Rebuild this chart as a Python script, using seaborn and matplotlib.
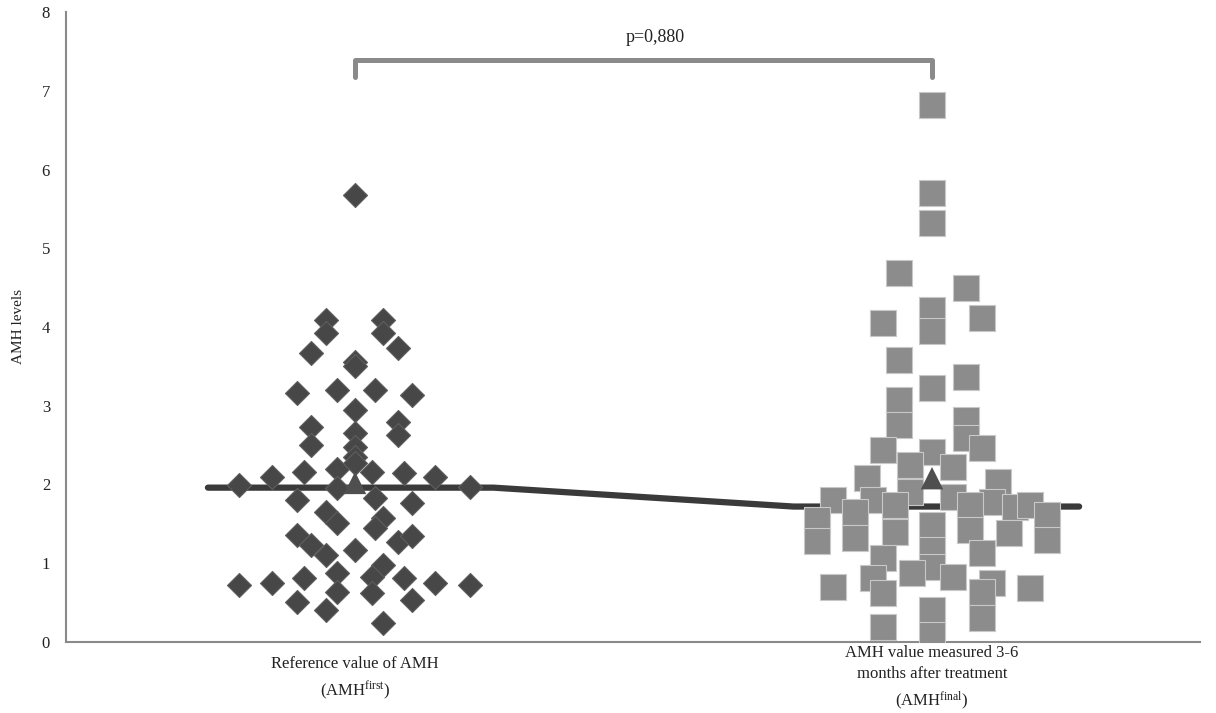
import numpy as np
import pandas as pd
import seaborn as sns
import matplotlib.pyplot as plt

# AMH values, with the sideways jitter (fraction of category width)
amh_first = [5.68, 4.09, 3.92, 4.09, 3.92, 3.73, 3.67, 3.56, 3.50, 3.16,
             3.20, 3.20, 3.14, 2.95, 2.73, 2.50, 2.80, 2.63, 2.65, 2.48,
             2.35, 2.16, 2.20, 2.16, 2.14, 2.10, 2.10, 1.99, 1.97, 1.96,
             2.27, 1.80, 1.83, 1.76, 1.65, 1.51, 1.57, 1.45, 1.36, 1.23,
             1.10, 1.17, 1.27, 1.34, 0.98, 0.87, 0.83, 0.72, 0.75, 0.81,
             0.81, 0.75, 0.72, 0.51, 0.64, 0.62, 0.53, 0.41, 0.24]
jitter_first = [0.000, -0.050, -0.050, 0.049, 0.049, 0.075, -0.076, 0.000, 0.000, -0.101,
                -0.031, 0.035, 0.099, 0.000, -0.076, -0.076, 0.075, 0.075, 0.000, 0.000,
                0.000, -0.088, -0.031, 0.029, 0.085, 0.139, -0.144, -0.201, 0.199, -0.031,
                0.000, -0.101, 0.035, 0.099, -0.050, -0.031, 0.049, 0.035, -0.101, -0.076,
                -0.050, 0.000, 0.075, 0.099, 0.049, -0.031, 0.029, -0.201, -0.144, -0.088,
                0.085, 0.139, 0.199, -0.101, -0.031, 0.029, 0.099, -0.050, 0.049]

amh_final = [6.82, 5.70, 5.32, 4.69, 4.50, 4.05, 4.22, 3.95, 4.11, 3.58,
             3.37, 3.22, 3.07, 2.75, 2.82, 2.59, 2.46, 2.44, 2.41, 2.25,
             2.22, 2.08, 2.03, 1.90, 1.84, 1.80, 1.74, 1.80, 1.65, 1.78,
             1.74, 1.71, 1.74, 1.61, 1.55, 1.28, 1.32, 1.40, 1.49, 1.42,
             1.38, 1.30, 1.17, 1.13, 1.07, 0.95, 0.87, 0.83, 0.81, 0.70,
             0.75, 0.69, 0.64, 0.62, 0.41, 0.30, 0.19, 0.09]
jitter_final = [0.000, 0.000, 0.000, -0.057, 0.059, -0.085, 0.000, 0.000, 0.087, -0.057,
                0.059, 0.000, -0.057, -0.057, 0.059, 0.059, 0.087, -0.085, 0.000, -0.038,
                0.036, -0.113, 0.114, -0.038, 0.036, -0.102, -0.064, -0.172, -0.133, 0.104,
                0.066, 0.144, 0.170, 0.199, -0.199, -0.199, -0.133, -0.064, 0.000, 0.066,
                0.133, 0.199, 0.000, 0.087, -0.085, 0.000, -0.035, 0.036, -0.102, -0.172,
                0.104, 0.170, 0.087, -0.085, 0.000, 0.087, -0.085, 0.000]

group_labels = ['Reference value of AMH\n(AMH$\\mathregular{^{first}}$)',
                'AMH value measured 3-6\nmonths after treatment\n(AMH$\\mathregular{^{final}}$)']
medians = [1.96, 1.72]
means = [2.02, 2.08]
p_text = 'p=0,880'

first = pd.DataFrame({'x': 0 + np.array(jitter_first), 'amh': amh_first})
final = pd.DataFrame({'x': 1 + np.array(jitter_final), 'amh': amh_final})

# connecting line through the medians (flat across each group)
half, flat = 0.255, 0.24
line_df = pd.DataFrame({'x': [-half, flat, 1 - flat, 1 + half],
                        'amh': [medians[0], medians[0], medians[1], medians[1]]})
mean_df = pd.DataFrame({'x': [0, 1], 'amh': means})

sns.set_style('white')
plt.rcParams['font.family'] = ['Liberation Serif', 'DejaVu Serif']

fig = plt.figure(figsize=(12.16, 7.13), dpi=100)
ax = fig.add_axes([66 / 1216, 71 / 713, 1134 / 1216, 630 / 713])

sns.lineplot(data=line_df, x='x', y='amh', ax=ax, color='#3a3a3a', lw=4.5,
             solid_capstyle='round', zorder=2, sort=False)
sns.scatterplot(data=first, x='x', y='amh', ax=ax, marker='D', s=150,
                color='#474747', edgecolor='#5e5e5e', linewidth=0.8, zorder=3)
sns.scatterplot(data=final, x='x', y='amh', ax=ax, marker='s', s=340,
                color='#8c8c8c', edgecolor='#c8c8c8', linewidth=0.8, zorder=3)
sns.scatterplot(data=mean_df, x='x', y='amh', ax=ax, marker='^', s=260,
                color='#4f4f4f', edgecolor='none', zorder=4)

# significance bracket
ax.plot([0, 0, 1, 1], [7.17, 7.39, 7.39, 7.17], color='#8a8a8a', lw=3.6,
        solid_joinstyle='round', solid_capstyle='round', clip_on=False)
ax.text(0.52, 7.68, p_text, ha='center', va='center', fontsize=13, color='#222222')

ax.set_xlim(-0.501, 1.4645)
ax.set_ylim(0, 8)
ax.set_yticks(range(0, 9))
ax.set_xticks([0, 1])
ax.set_xticklabels(group_labels, fontsize=12, color='#222222', linespacing=1.45)
for t in ax.get_xticklabels():
    t.set_va('center')
ax.tick_params(axis='x', length=0, pad=26)
ax.tick_params(axis='y', direction='inout', length=9, width=1.2, color='#8a8a8a',
               labelsize=12, labelcolor='#222222', pad=7)
ax.set_xlabel('')
ax.set_ylabel('AMH levels', fontsize=11, color='#222222', labelpad=12)

for side in ['top', 'right']:
    ax.spines[side].set_visible(False)
for side in ['left', 'bottom']:
    ax.spines[side].set_color('#8a8a8a')
    ax.spines[side].set_linewidth(1.5)

plt.savefig('out.png', dpi=100)
plt.close()
